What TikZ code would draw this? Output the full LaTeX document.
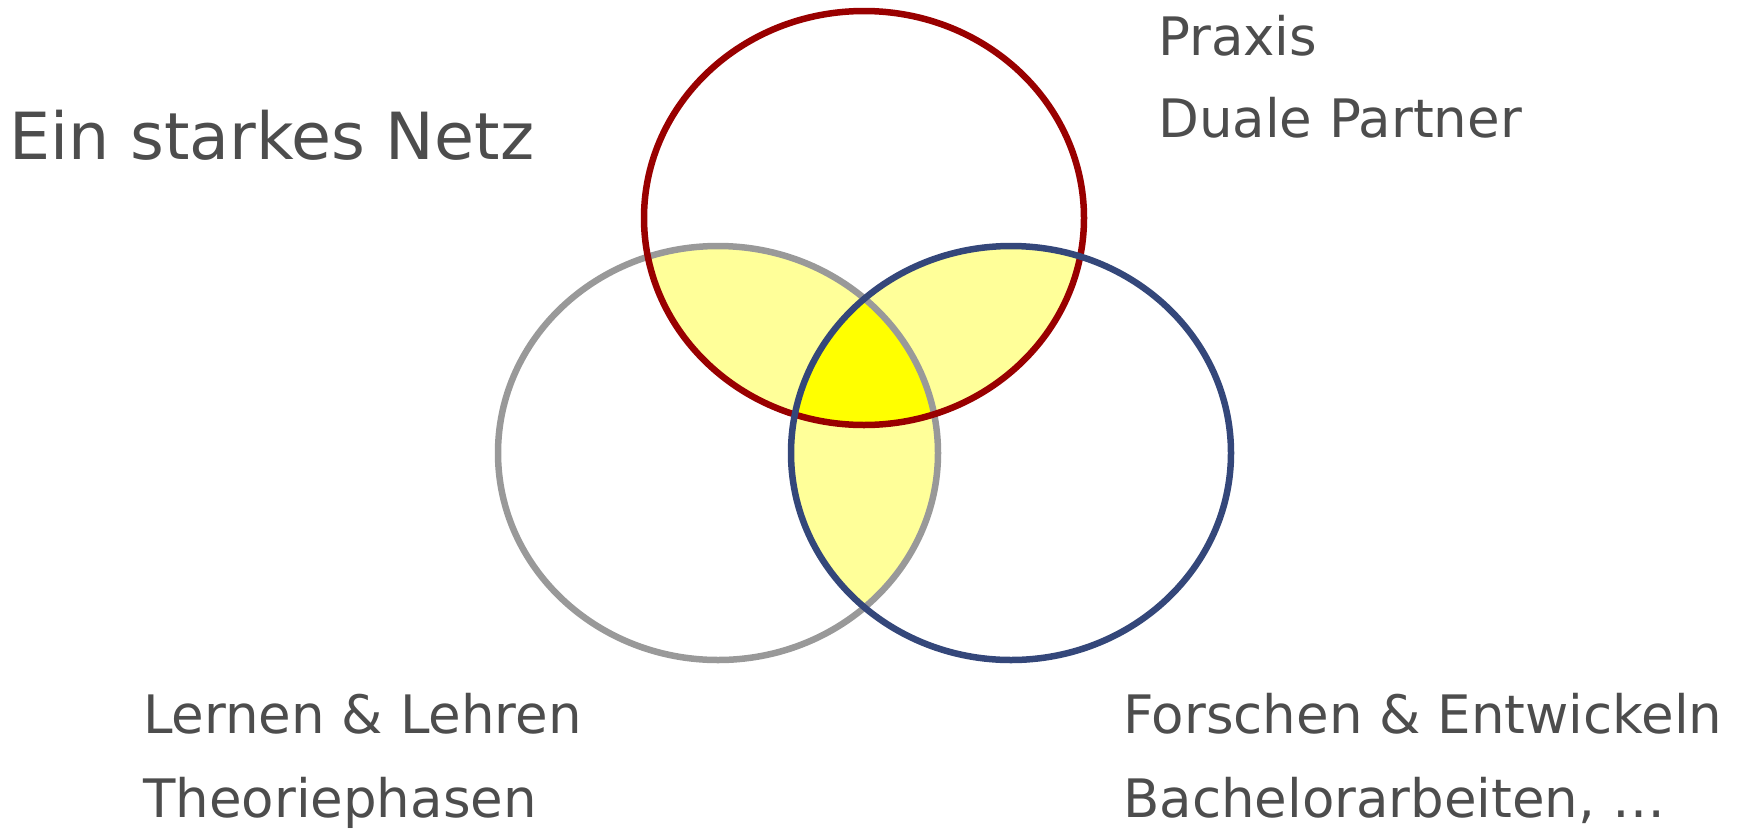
\documentclass[tikz,border=0pt]{standalone}
\usepackage{fontspec}
\setmainfont{DejaVu Sans}
\definecolor{txt}{HTML}{4D4D4D}
\definecolor{redc}{HTML}{990000}
\definecolor{grayc}{HTML}{999999}
\definecolor{bluec}{HTML}{34477A}
\definecolor{pale}{HTML}{FFFF99}
\definecolor{bright}{HTML}{FFFF00}
\tikzset{
  lbl/.style={anchor=base west, inner sep=0pt, text=txt},
  big/.style={font=\fontsize{53}{64}\selectfont},
  ring/.style={line width=6.5pt},
}
\begin{document}
\begin{tikzpicture}[x=1pt,y=-1pt]
\useasboundingbox (0,0) rectangle (1742,828);
\def\R{(864,218) ellipse [x radius=220, y radius=207]}
\def\G{(718,453) ellipse [x radius=220, y radius=207]}
\def\B{(1011,453) ellipse [x radius=220, y radius=207]}
% pairwise overlaps
\begin{scope}\clip \R; \fill[pale] \G; \end{scope}
\begin{scope}\clip \R; \fill[pale] \B; \end{scope}
\begin{scope}\clip \G; \fill[pale] \B; \end{scope}
% triple overlap
\begin{scope}\clip \R; \clip \G; \fill[bright] \B; \end{scope}
% outlines
\draw[ring, grayc] \G;
\draw[ring, redc] \R;
\draw[ring, bluec] \B;
% texts
\node[lbl, font=\fontsize{65}{78}\selectfont] (title) at (9,159) {Ein starkes Netz};
\node[lbl, big] (praxis) at (1158,55) {Praxis};
\node[lbl, big] (duale) at (1158,137) {Duale Partner};
\node[lbl, big] (lernen) at (143,733) {Lernen \& Lehren};
\node[lbl, big] (theorie) at (143,817) {Theoriephasen};
\node[lbl, big] (forschen) at (1123,733) {Forschen \& Entwickeln};
\node[lbl, big] (bachelor) at (1123,817) {Bachelorarbeiten, …};
\end{tikzpicture}
\end{document}
